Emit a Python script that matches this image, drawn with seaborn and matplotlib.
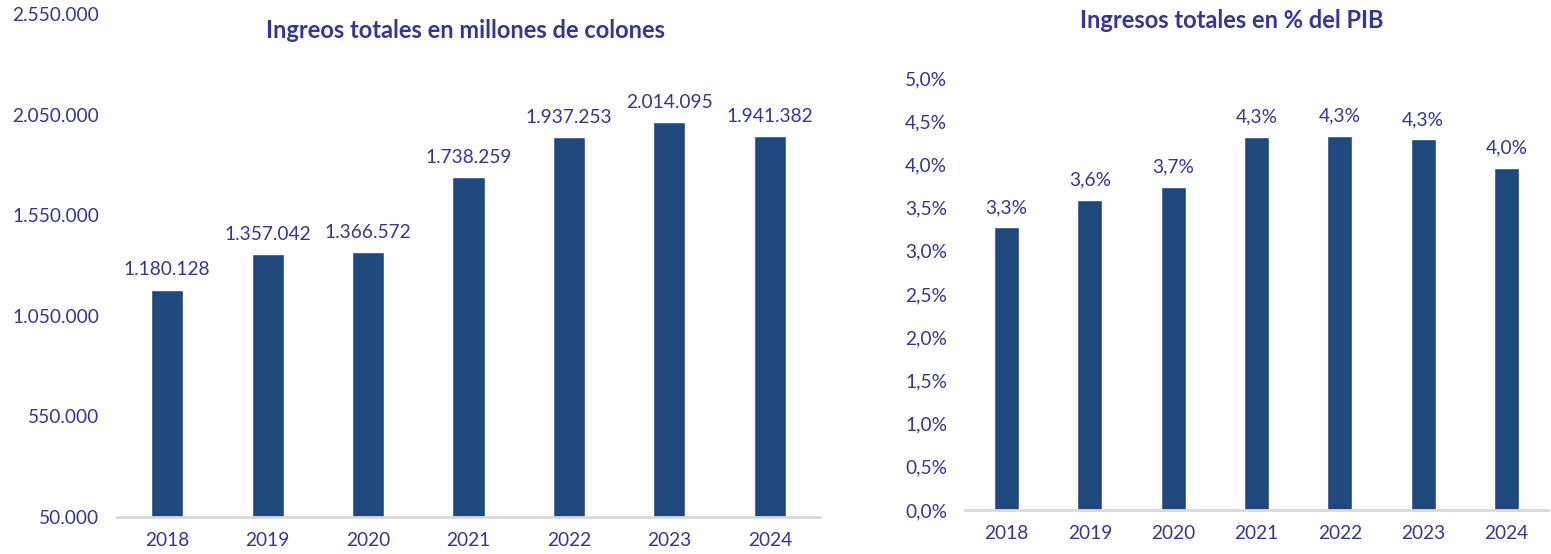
import matplotlib
matplotlib.use("Agg")
import matplotlib.pyplot as plt
import seaborn as sns

# data
years = ["2018", "2019", "2020", "2021", "2022", "2023", "2024"]
ingresos_colones = [1180128, 1357042, 1366572, 1738259, 1937253, 2014095, 1941382]
ingresos_pib = [3.27, 3.59, 3.74, 4.32, 4.33, 4.29, 3.96]

BAR = "#1F497D"
TXT = "#35359A"
AXIS = "#D9D9D9"
FS = 13.8

sns.set_theme(style="white")
plt.rcParams["font.family"] = ["Lato", "DejaVu Sans"]


def miles(v):
    return f"{v:,.0f}".replace(",", ".")


def pct(v):
    return f"{v:.1f}%".replace(".", ",")


def style_axis(ax):
    sns.despine(ax=ax, left=True, top=True, right=True)
    ax.spines["bottom"].set_color(AXIS)
    ax.spines["bottom"].set_linewidth(2)
    ax.tick_params(axis="both", length=0, labelsize=FS, labelcolor=TXT)
    ax.tick_params(axis="y", pad=13)
    ax.tick_params(axis="x", pad=11)
    ax.set_xlabel("")
    ax.set_ylabel("")
    ax.set_xlim(-0.5, len(years) - 0.5)


fig = plt.figure(figsize=(15.51, 5.54), dpi=100)

# left: millones de colones
ax1 = fig.add_axes([0.0754, 0.0668, 0.4533, 0.908])
sns.barplot(x=years, y=ingresos_colones, color=BAR, width=0.32, saturation=1, ax=ax1)
ax1.set_ylim(50000, 2550000)
ax1.set_yticks(range(50000, 2550001, 500000))
ax1.set_yticklabels([miles(t) for t in range(50000, 2550001, 500000)])
style_axis(ax1)
ax1.bar_label(ax1.containers[0], labels=[miles(v) for v in ingresos_colones],
              padding=8, fontsize=FS, color=TXT)
fig.text(0.30, 0.945, "Ingreos totales en millones de colones", ha="center", va="center",
         fontsize=17, fontweight="bold", color=TXT)

# right: % del PIB
ax2 = fig.add_axes([0.6222, 0.0794, 0.3759, 0.78])
sns.barplot(x=years, y=ingresos_pib, color=BAR, width=0.30, saturation=1, ax=ax2)
ax2.set_ylim(0, 5.0)
ticks = [i * 0.5 for i in range(11)]
ax2.set_yticks(ticks)
ax2.set_yticklabels([pct(t) for t in ticks])
style_axis(ax2)
ax2.bar_label(ax2.containers[0], labels=[pct(v) for v in ingresos_pib],
              padding=8, fontsize=FS, color=TXT)
fig.text(0.794, 0.963, "Ingresos totales en % del PIB", ha="center", va="center",
         fontsize=17, fontweight="bold", color=TXT)

fig.savefig("out.png", dpi=100)
